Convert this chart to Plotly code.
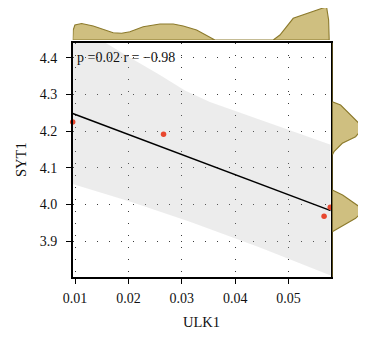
import numpy as np
import plotly.graph_objects as go

# page body has an 8px margin, so the figure is drawn at (8, 8)
OFF = 8
W, H = 366 - OFF, 340 - OFF

# ---- data ----
ulk1 = [0.00957, 0.02658, 0.05780, 0.05664]
syt1 = [4.2246, 4.1910, 3.9920, 3.9674]

x_range = [0.00957, 0.05788]
y_range = [3.8018, 4.4409]
x_ticks = [0.01, 0.02, 0.03, 0.04, 0.05]
y_ticks = [3.9, 4.0, 4.1, 4.2, 4.3, 4.4]

# confidence band edges
band_x_up = [0.00955, 0.01528, 0.02028, 0.02590, 0.03058, 0.03526, 0.04275, 0.05212, 0.05788]
band_up = [4.4947, 4.4436, 4.4005, 4.3531, 4.3105, 4.2792, 4.2402, 4.1924, 4.1627]
band_x_lo = [0.00955, 0.02028, 0.03152, 0.04463, 0.05788]
band_lo = [4.0555, 4.0077, 3.9527, 3.8820, 3.8059]

# marginal density for ULK1 (height in px units)
dens_x = [0.00957, 0.00966, 0.00998, 0.01124, 0.01341, 0.01528, 0.01715, 0.01873,
          0.02028, 0.02277, 0.02590, 0.02839, 0.03026, 0.03277, 0.03464, 0.03620,
          0.04712, 0.04837, 0.05086, 0.05337, 0.05524, 0.05680, 0.05712, 0.05749, 0.05760]
dens_x_h = [0, 10, 15, 16.5, 14, 10.7, 7.3, 6.7,
            8.3, 13.3, 16, 16, 14, 10, 5, 0,
            0, 5, 21.7, 26.7, 30, 32.7, 32.7, 20, 0]

# marginal density for SYT1 (width in px units)
dens_y = [4.4409, 4.2800, 4.2710, 4.2437, 4.2301, 4.2118, 4.2001, 4.1845, 4.1665,
          4.1436, 4.1346, 4.0391, 4.0255, 4.0072, 3.9846, 3.9619, 3.9390, 3.9254, 3.8018]
dens_y_w = [0, 0, 8.3, 18.3, 24, 30, 28, 23.3, 10,
            1.7, 0, 0, 10.3, 20, 31.7, 23.3, 8.3, 0, 0]

stat_text = "p =0.02 r = −0.98"

# ---- derived ----
slope, intercept = np.polyfit(ulk1, syt1, 1)
line_x = np.array(x_range)
line_y = slope * line_x + intercept

FONT = "Liberation Serif"
TXT = "#111111"
fill_col = "#CFBF80"
edge_col = "#8C7A2C"


def fx(px):
    return (px - OFF) / W


def fy(py):
    return 1 - (py - OFF) / H


fig = go.Figure()

fig.add_trace(go.Scatter(
    x=band_x_up + band_x_lo[::-1], y=band_up + band_lo[::-1],
    fill="toself", mode="lines", line=dict(width=0),
    fillcolor="rgba(175,175,175,0.24)", hoverinfo="skip", showlegend=False,
    xaxis="x", yaxis="y"))

fig.add_trace(go.Scatter(x=line_x, y=line_y, mode="lines",
                         line=dict(color="black", width=1.5),
                         showlegend=False, xaxis="x", yaxis="y"))

fig.add_trace(go.Scatter(x=ulk1, y=syt1, mode="markers",
                         marker=dict(color="#E8472E", size=5.5),
                         cliponaxis=False, showlegend=False,
                         xaxis="x", yaxis="y"))

fig.add_trace(go.Scatter(x=dens_x + [dens_x[0]], y=dens_x_h + [0],
                         fill="toself", fillcolor=fill_col, mode="lines",
                         line=dict(color=edge_col, width=1.1),
                         showlegend=False, xaxis="x2", yaxis="y2"))

fig.add_trace(go.Scatter(x=dens_y_w + [0], y=dens_y + [dens_y[0]],
                         fill="toself", fillcolor=fill_col, mode="lines",
                         line=dict(color=edge_col, width=1.1),
                         showlegend=False, xaxis="x3", yaxis="y3"))

main_dx = [fx(72.7), fx(330.7)]
main_dy = [fy(277), fy(42.7)]

grid = dict(showgrid=True, gridcolor="#3a3a3a", gridwidth=1, griddash="1px,11px")
tickfont = dict(family=FONT, size=14, color=TXT)

fig.update_layout(
    width=W, height=H,
    margin=dict(l=0, r=0, t=0, b=0),
    paper_bgcolor="white", plot_bgcolor="rgba(0,0,0,0)",
    font=dict(family=FONT, size=14, color=TXT),
    xaxis=dict(domain=main_dx, range=x_range, tickvals=x_ticks,
               ticktext=[f"{v:.2f}" for v in x_ticks], tickfont=tickfont,
               showline=True, mirror=True, linecolor="black", linewidth=1.5,
               ticks="outside", ticklen=5, tickcolor="black", tickwidth=1,
               zeroline=False, automargin=False, anchor="y",
               ticklabelstandoff=2, **grid),
    yaxis=dict(domain=main_dy, range=y_range, tickvals=y_ticks,
               ticktext=[f"{v:.1f}" for v in y_ticks], tickfont=tickfont,
               showline=True, mirror=True, linecolor="black", linewidth=1.5,
               ticks="outside", ticklen=5, tickcolor="black", tickwidth=1,
               zeroline=False, automargin=False, anchor="x",
               ticklabelstandoff=6, **grid),
    xaxis2=dict(domain=main_dx, range=x_range, visible=False, anchor="y2",
                showgrid=False, zeroline=False),
    yaxis2=dict(domain=[fy(40), 1.0], range=[0, 40 - OFF], visible=False,
                anchor="x2", showgrid=False, zeroline=False),
    xaxis3=dict(domain=[fx(332.3), 1.0], range=[0, 33.7], visible=False,
                anchor="y3", showgrid=False, zeroline=False),
    yaxis3=dict(domain=main_dy, range=y_range, visible=False, anchor="x3",
                showgrid=False, zeroline=False),
    annotations=[
        dict(text="ULK1", x=fx(201.7), y=fy(321.7), xref="paper", yref="paper",
             showarrow=False, xanchor="center", yanchor="middle",
             font=dict(family=FONT, size=14.5, color=TXT)),
        dict(text="SYT1", x=fx(21), y=fy(160), xref="paper", yref="paper",
             showarrow=False, xanchor="center", yanchor="middle", textangle=-90,
             font=dict(family=FONT, size=14.5, color=TXT)),
        dict(text=stat_text, x=fx(75), y=fy(57), xref="paper", yref="paper",
             showarrow=False, xanchor="left", yanchor="middle",
             font=dict(family=FONT, size=14, color=TXT)),
    ],
)

fig.write_html("out.html")
